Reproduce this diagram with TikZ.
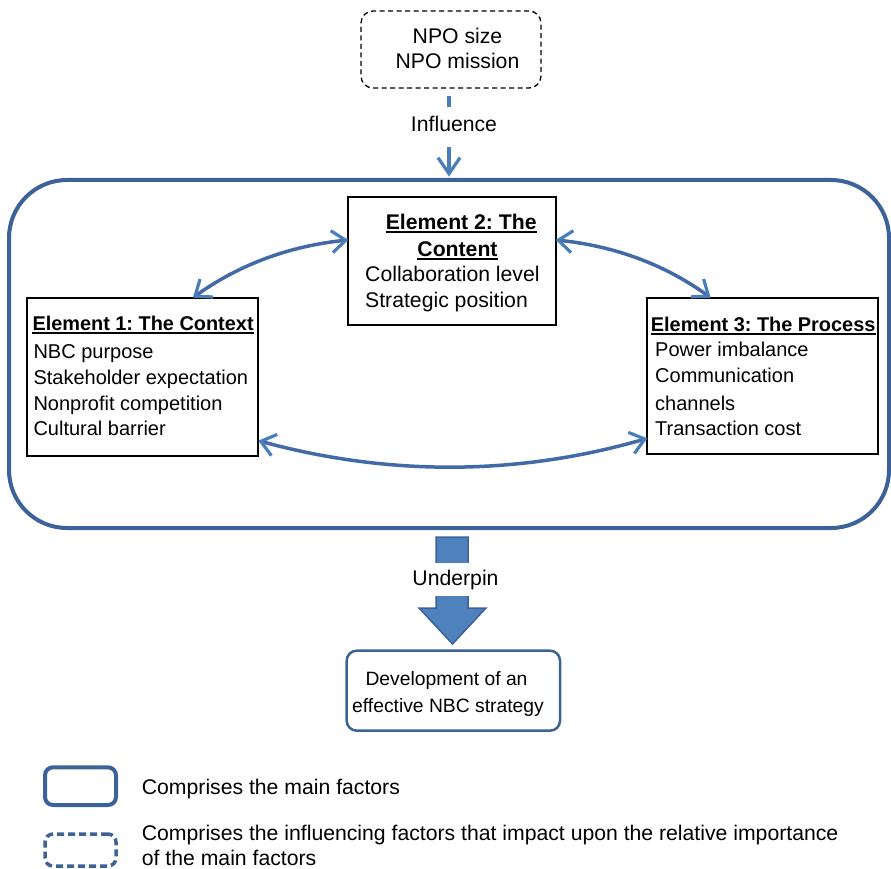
\documentclass[tikz,border=0pt]{standalone}
\usepackage{fontspec}
\setmainfont{Liberation Sans}
\usetikzlibrary{arrows.meta,calc}
\definecolor{frameblue}{RGB}{61,98,151}
\definecolor{linkblue}{RGB}{66,106,166}
\definecolor{arrowblue}{RGB}{74,126,187}
\definecolor{fillblue}{RGB}{79,129,189}
\frenchspacing
\begin{document}
\begin{tikzpicture}[x=1pt,y=-1pt,
  box/.style={draw, inner sep=0pt, outer sep=0pt, anchor=north west},
  elbox/.style={box, black, line width=2pt},
  txt/.style={inner sep=0pt, anchor=base west},
  ctxt/.style={inner sep=0pt, anchor=base},
  fa/.style={font=\fontsize{20}{24}\selectfont},
  fb/.style={font=\fontsize{21.2}{25}\selectfont},
  ft/.style={font=\fontsize{19.9}{24}\selectfont\bfseries},
  ftb/.style={font=\fontsize{21.2}{25}\selectfont\bfseries},
  ulin/.style={line width=1.8pt, black},
  dbl/.style={linkblue, line width=3.5pt,
    {Straight Barb[length=14pt,width=22pt,line width=3.2pt,color=arrowblue]}-{Straight Barb[length=14pt,width=22pt,line width=3.2pt,color=arrowblue]}},
]
\useasboundingbox (0,0) rectangle (891,869);

% main frame
\node[box, frameblue, line width=4pt, rounded corners=58pt, minimum width=880pt, minimum height=348pt] (main) at (9,180) {};

% influencing factors
\node[box, black, line width=1.3pt, dash pattern=on 5pt off 3.5pt, rounded corners=12pt, minimum width=180pt, minimum height=77pt] (npo) at (361,11) {};
\node[ctxt, fb] (npo1) at (457.5,43.3) {NPO size};
\node[ctxt, fb] (npo2) at (457.5,69) {NPO mission};

\coordinate (inf1) at (449,96);
\coordinate (inf2) at (449,107);
\coordinate (inf3) at (449,147);
\node[ctxt, fb] (infl) at (454,131.7) {Influence};
\draw[arrowblue, line width=4pt] (inf1) -- (inf2);
\draw[arrowblue, line width=3.5pt, shorten >=3.5pt, -{Straight Barb[length=16pt,width=22pt,line width=3.2pt]}] (inf3) -- (inf3 |- main.north);

% Element 1
\node[elbox, minimum width=231pt, minimum height=158pt] (e1) at (27.3,297.7) {};
\node[txt, ft] (e1t) at (32.3,330) {Element 1: The Context};
\draw[ulin] ($(e1t.base west)+(0,2.8)$) -- ($(e1t.base east)+(0,2.8)$);
\node[txt, fa] (e1a) at (33.3,358.3) {NBC purpose};
\node[txt, fa] (e1b) at (33.3,384) {Stakeholder expectation};
\node[txt, fa] (e1c) at (33.3,410) {Nonprofit competition};
\node[txt, fa] (e1d) at (33.3,435.7) {Cultural barrier};

% Element 2
\node[elbox, minimum width=207.4pt, minimum height=127.7pt] (e2) at (348.3,197.3) {};
\node[ctxt, ftb] (e2t1) at (461.2,229.3) {Element 2: The};
\node[ctxt, ftb] (e2t2) at (457.5,256) {Content};
\draw[ulin] ($(e2t1.base west)+(0,2.6)$) -- ($(e2t1.base east)+(0,2.6)$);
\draw[ulin] ($(e2t2.base west)+(0,2.6)$) -- ($(e2t2.base east)+(0,2.6)$);
\node[txt, fb] (e2a) at (365,281.7) {Collaboration level};
\node[txt, fb] (e2b) at (365,307.3) {Strategic position};

% Element 3
\node[elbox, minimum width=230.4pt, minimum height=156.6pt] (e3) at (647.3,297.7) {};
\node[txt, ft] (e3t) at (650.7,331) {Element 3: The Process};
\draw[ulin] ($(e3t.base west)+(0,2.8)$) -- ($(e3t.base east)+(0,2.8)$);
\node[txt, fa] (e3a) at (655,356.7) {Power imbalance};
\node[txt, fa] (e3b) at (655,382.7) {Communication};
\node[txt, fa] (e3c) at (655,410) {channels};
\node[txt, fa] (e3d) at (655,435.7) {Transaction cost};

% connectors between elements
\draw[dbl] ($(e1.north west)!0.717!(e1.north east)$) .. controls (240,264) and (290,246) .. ($(e2.north west)!0.334!(e2.south west)$);
\draw[dbl] ($(e2.north east)!0.334!(e2.south east)$) .. controls (614,246) and (664,264) .. ($(e3.north west)!0.275!(e3.north east)$);
\draw[dbl] ($(e1.north east)!0.905!(e1.south east)$) .. controls (388,476) and (517,476) .. ($(e3.north west)!0.898!(e3.south west)$);

% block arrow
\draw[fill=fillblue, draw=frameblue, line width=1.5pt, line join=miter]
  (436,537) -- (468,537) -- (468,608) -- (486,608) -- (452.5,644) -- (419,608) -- (436,608) -- cycle;
\node[ctxt, fb, fill=white, text height=16pt, text depth=5pt, inner ysep=6pt, inner xsep=2pt] (und) at (455.5,585) {Underpin};

% outcome box
\node[box, frameblue, line width=2.5pt, rounded corners=10pt, minimum width=213.3pt, minimum height=80pt] (dev) at (346.7,650.7) {};
\node[ctxt, font=\fontsize{19.3}{23}\selectfont] (dev1) at (446.5,685.7) {Development of an};
\node[ctxt, font=\fontsize{19.3}{23}\selectfont] (dev2) at (448,712.7) {effective NBC strategy};

% legend
\node[box, frameblue, line width=4pt, rounded corners=8pt, minimum width=71pt, minimum height=37.7pt] (leg1) at (45,767.3) {};
\node[txt, fb] (leg1t) at (141.7,794.3) {Comprises the main factors};
\node[box, frameblue, line width=3.5pt, dash pattern=on 7pt off 4pt, rounded corners=8pt, minimum width=71pt, minimum height=32pt] (leg2) at (45,834) {};
\node[txt, fb] (leg2t) at (141.7,840) {Comprises the influencing factors that impact upon the relative importance};
\node[txt, fb] (leg2u) at (141.7,865) {of the main factors};
\end{tikzpicture}
\end{document}
